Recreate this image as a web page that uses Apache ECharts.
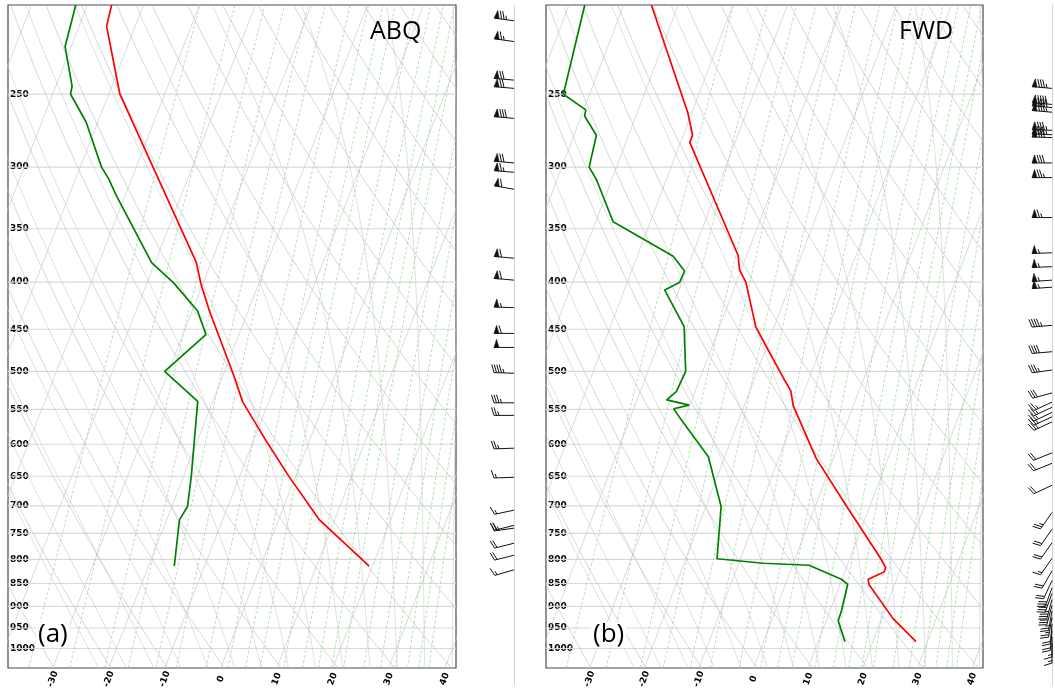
<!DOCTYPE html>
<html><head><meta charset="utf-8">
<script src="https://cdn.jsdelivr.net/npm/echarts@6/dist/echarts.min.js"></script>
<style>html,body{margin:0;padding:0;background:#fff}#c{width:1055px;height:691px}</style>
</head><body><div id="c"></div>
<script>
// ---------------- data ----------------
const pressureTicks = [250, 300, 350, 400, 450, 500, 550, 600, 650, 700, 750, 800, 850, 900, 950, 1000];
const tempTicks = [-30, -20, -10, 0, 10, 20, 30, 40];

// ABQ (a)
const abqTP = [200, 211, 250, 381, 401, 430, 460, 503, 540, 596, 651, 725, 814];
const abqT  = [-65.7, -65.1, -58.0, -32.6, -30.4, -26.9, -23.2, -18.3, -14.6, -7.6, -1.1, 7.3, 19.4];
const abqDP = [200, 222, 245, 250, 268, 300, 309, 322, 381, 401, 430, 456, 500, 539, 651, 701, 725, 814];
const abqTd = [-72.1, -71.1, -67.1, -66.8, -62.1, -56.2, -54.1, -51.6, -40.6, -35.2, -29.0, -25.9, -30.7, -22.7, -18.6, -17.2, -17.7, -15.4];
const abqWindP   = [208, 219, 241, 246, 265, 296, 303, 316, 375, 396, 424, 452, 468, 499, 537, 554, 601, 646, 701, 728, 733, 761, 784, 813];
const abqWindKt  = [75, 65, 70, 70, 80, 70, 65, 60, 60, 60, 55, 60, 50, 45, 35, 25, 25, 15, 15, 20, 25, 20, 20, 15];
const abqWindDir = [278, 278, 275, 275, 275, 275, 275, 280, 275, 275, 272, 270, 270, 272, 270, 270, 268, 268, 258, 256, 262, 256, 256, 254];

// FWD (b)
const fwdTP = [200, 262, 277, 282, 374, 388, 400, 447, 469, 508, 525, 545, 622, 701, 797, 817, 826, 841, 852, 928, 983];
const fwdT  = [-64.9, -50.7, -48.3, -48.3, -31.6, -30.3, -28.3, -23.4, -20.2, -14.8, -12.5, -11.0, -3.1, 5.8, 15.5, 17.2, 17.2, 14.8, 15.3, 22.1, 27.9];
const fwdDP = [200, 250, 260, 264, 277, 300, 310, 344, 375, 389, 400, 408, 447, 500, 526, 537, 544, 549, 561, 619, 701, 799, 808, 812, 841, 852, 910, 933, 983];
const fwdTd = [-77.1, -74.8, -69.6, -69.4, -65.9, -65.0, -62.7, -56.8, -43.4, -40.3, -40.4, -42.6, -36.5, -33.1, -33.4, -34.6, -30.1, -32.7, -31.0, -23.0, -17.2, -14.3, -5.5, 3.0, 9.9, 11.4, 12.1, 12.2, 14.9];
const fwdWindP   = [246, 256, 258, 261, 273, 276, 278, 296, 307, 339, 370, 383, 396, 403, 443, 473, 495, 524, 536, 543, 550, 556, 563, 608, 624, 659, 705, 735, 760, 790, 815, 835, 850, 862, 875, 888, 900, 915, 930, 945, 960, 975];
const fwdWindKt  = [85, 90, 90, 85, 85, 85, 80, 80, 75, 65, 55, 55, 55, 55, 45, 40, 35, 30, 25, 25, 25, 25, 25, 20, 20, 20, 25, 20, 20, 15, 20, 20, 30, 35, 35, 30, 25, 25, 20, 20, 15, 15];
const fwdWindDir = [275, 275, 275, 275, 272, 272, 272, 270, 270, 270, 268, 268, 266, 266, 265, 265, 262, 255, 245, 245, 245, 245, 245, 248, 248, 245, 215, 215, 215, 215, 210, 205, 200, 200, 195, 195, 190, 190, 185, 185, 180, 180];

// reference-line parameters (chart furniture)
const dryThetaK = [230,240,250,260,270,280,290,300,310,320,330,340,350,360,370,380,390,400,410,420,430,440,450,460,470,480,490,500];
const moistT0 = [-25,-20,-15,-10,-5,0,5,10,15,20,25,30,35,40,45];
const mixRatioGkg = [0.2, 0.4, 0.7, 1, 1.5, 2, 3, 4, 5, 6, 8, 10, 12, 14, 16, 20, 24, 28, 32, 36, 40];
const isothermT = [-120,-110,-100,-90,-80,-70,-60,-50,-40,-30,-20,-10,0,10,20,30,40];

// ---------------- skew-T transform ----------------
const SKEW = 27.86, PBOT = 1050, PTOP = 200, XMIN = -38, XMAX = 42;
const PBARB = 1082; // barb staff column runs a little below the diagram
const skx = (t, p) => t + SKEW * Math.log(PBOT / p);
const prof = (ps, ts) => ps.map((p, i) => [skx(ts[i], p), p]);

const pLevels = [];
for (let p = PBOT; p >= PTOP; p -= 10) pLevels.push(p);

function esat(tc) { return 6.112 * Math.exp(17.67 * tc / (tc + 243.5)); }
const dryLines = dryThetaK.map(th => pLevels.map(p => [skx(th * Math.pow(p / 1000, 0.2857) - 273.15, p), p]));
const mixLines = mixRatioGkg.map(w => {
  const r = w / 1000;
  return pLevels.map(p => {
    const e = r * p / (0.622 + r);
    const l = Math.log(e / 6.112);
    return [skx(243.5 * l / (17.67 - l), p), p];
  });
});
const isoLines = isothermT.map(t => [[skx(t, PBOT), PBOT], [skx(t, PTOP), PTOP]]);
function moistRate(T, p) {
  const Rd = 287.05, Lv = 2.501e6, Cp = 1005.7, eps = 0.622;
  const es = esat(T - 273.15);
  const rs = eps * es / (p - es);
  return (1 / p) * (Rd * T + Lv * rs) / (Cp + Lv * Lv * rs * eps / (Rd * T * T));
}
function integ(T, p0, p1, step) {
  const out = [[T, p0]];
  let p = p0;
  while ((step < 0 && p + step >= p1 - 1e-6) || (step > 0 && p + step <= p1 + 1e-6)) {
    const h = step;
    const k1 = moistRate(T, p), k2 = moistRate(T + h * k1 / 2, p + h / 2);
    const k3 = moistRate(T + h * k2 / 2, p + h / 2), k4 = moistRate(T + h * k3, p + h);
    T += h * (k1 + 2 * k2 + 2 * k3 + k4) / 6; p += h;
    out.push([T, p]);
  }
  return out;
}
const moistLines = moistT0.map(t0 => {
  const up = integ(t0 + 273.15, 1000, PTOP, -10);
  const dn = integ(t0 + 273.15, 1000, PBOT, 10);
  const all = dn.reverse().concat(up.slice(1));
  return all.map(([T, p]) => [skx(T - 273.15, p), p]);
});
const isobars = pressureTicks.map(p => [[XMIN, p], [XMAX, p]]);

// ---------------- layout ----------------
const grids = [
  {left: 8, top: 5, width: 448, height: 668},
  {left: 546, top: 5, width: 437, height: 668},
  {left: 494, top: 5, width: 20, height: 680},
  {left: 1032, top: 5, width: 20, height: 680}
];
const labelFont = {fontFamily: 'DejaVu Sans', fontWeight: 'bold', fontSize: 9, color: '#000'};

function mainX(i) {
  return {gridIndex: i, type: 'value', min: XMIN, max: XMAX,
    axisLine: {show: false}, axisTick: {show: false}, splitLine: {show: false},
    axisLabel: Object.assign({customValues: tempTicks, rotate: 70, margin: 11, align: 'center', verticalAlign: 'middle'}, labelFont)};
}
function mainY(i) {
  return {gridIndex: i, type: 'log', min: PTOP, max: PBOT, inverse: true,
    axisLine: {show: false}, axisTick: {show: false}, splitLine: {show: false},
    axisLabel: Object.assign({customValues: pressureTicks, inside: true, margin: 2, formatter: v => String(Math.round(v))}, labelFont)};
}
function barbX(i) { return {gridIndex: i, type: 'value', min: 0, max: 1, show: false}; }
function barbY(i) {
  return {gridIndex: i, type: 'log', min: PTOP, max: PBARB, inverse: true, position: 'right',
    axisLine: {show: true, onZero: false, lineStyle: {color: '#d4d4d4', width: 1}}, axisTick: {show: false},
    axisLabel: {show: false}, splitLine: {show: false}};
}

function bgSeries(idx) {
  const mk = (lines, style, z) => ({type: 'lines', coordinateSystem: 'cartesian2d', xAxisIndex: idx, yAxisIndex: idx,
    polyline: true, clip: true, silent: true, z: z, lineStyle: style, data: lines.map(c => ({coords: c}))});
  return [
    mk(isobars, {color: '#d9d9d9', width: 1.2, opacity: 1}, 1),
    mk(mixLines, {color: '#88d888', width: 0.8, opacity: 0.85, type: [3, 2]}, 1),
    mk(moistLines, {color: '#c8c8c8', width: 0.8, opacity: 0.7}, 1),
    mk(dryLines, {color: '#c0c0c0', width: 0.8, opacity: 0.8}, 1),
    mk(isoLines, {color: '#c4c4c4', width: 0.8, opacity: 0.8}, 1)
  ];
}
function profSeries(idx, data, color) {
  return {type: 'line', xAxisIndex: idx, yAxisIndex: idx, data: data, showSymbol: false, symbol: 'none',
    clip: true, z: 5, lineStyle: {color: color, width: 1.7}, silent: true};
}

function barbRender(params, api) {
  const p = api.value(1), spd = api.value(2), dir = api.value(3);
  const a = api.coord([api.value(0), p]);
  const L = 20, H = 8, W = 5, S = 2.5;
  const rad = dir * Math.PI / 180;
  const ux = Math.sin(rad), uy = -Math.cos(rad);
  const nx = -uy, ny = ux;
  const pt = (s, h) => [a[0] + ux * s + nx * h, a[1] + uy * s + ny * h];
  let r = Math.round(spd / 5) * 5;
  const nf = Math.floor(r / 50); r -= nf * 50;
  const nb = Math.floor(r / 10); r -= nb * 10;
  const half = r >= 5;
  const kids = [];
  const ln = (p1, p2) => kids.push({type: 'line', shape: {x1: p1[0], y1: p1[1], x2: p2[0], y2: p2[1]},
    style: {stroke: '#111', lineWidth: 1}});
  ln(pt(0, 0), pt(L, 0));
  let off = L;
  for (let i = 0; i < nf; i++) {
    if (off !== L) off += S / 2;
    kids.push({type: 'polygon', shape: {points: [pt(off, 0), pt(off - W / 2, H), pt(off - W, 0)]},
      style: {fill: '#111', stroke: '#111', lineWidth: 0.6}});
    off -= W + S;
  }
  for (let i = 0; i < nb; i++) { ln(pt(off, 0), pt(off + W / 2, H)); off -= S; }
  if (half) {
    if (off === L) off -= 1.5 * S;
    ln(pt(off, 0), pt(off + W / 4, H / 2));
  }
  return {type: 'group', children: kids};
}
function barbSeries(idx, ps, kts, dirs) {
  return {type: 'custom', xAxisIndex: idx, yAxisIndex: idx, clip: false, silent: true, z: 6,
    renderItem: barbRender, encode: {x: 0, y: 1},
    data: ps.map((p, i) => [1, p, kts[i], dirs[i]])};
}

const chart = echarts.init(document.getElementById('c'), null, {renderer: 'canvas'});
chart.setOption({
  animation: false,
  backgroundColor: '#fff',
  grid: grids.map((g, i) => Object.assign({show: i < 2, borderColor: '#4a4a4a', borderWidth: 1.2, backgroundColor: 'transparent'}, g)),
  xAxis: [mainX(0), mainX(1), barbX(2), barbX(3)],
  yAxis: [mainY(0), mainY(1), barbY(2), barbY(3)],
  series: [
    ...bgSeries(0), ...bgSeries(1),
    profSeries(0, prof(abqTP, abqT), '#ff0000'),
    profSeries(0, prof(abqDP, abqTd), '#008000'),
    profSeries(1, prof(fwdTP, fwdT), '#ff0000'),
    profSeries(1, prof(fwdDP, fwdTd), '#008000'),
    barbSeries(2, abqWindP, abqWindKt, abqWindDir),
    barbSeries(3, fwdWindP, fwdWindKt, fwdWindDir)
  ],
  graphic: [
    {type: 'text', left: 370, top: 19, z: 10, style: {text: 'ABQ', fontFamily: 'Open Sans', fontSize: 25, fill: '#000'}},
    {type: 'text', left: 899, top: 19, z: 10, style: {text: 'FWD', fontFamily: 'Open Sans', fontSize: 25, fill: '#000'}},
    {type: 'text', left: 36, top: 622, z: 10, style: {text: '(a)', fontFamily: 'Open Sans', fontSize: 26, fill: '#000', backgroundColor: '#fff', padding: [0, 2]}},
    {type: 'text', left: 591, top: 622, z: 10, style: {text: '(b)', fontFamily: 'Open Sans', fontSize: 26, fill: '#000', backgroundColor: '#fff', padding: [0, 2]}}
  ]
});
</script>
</body></html>
